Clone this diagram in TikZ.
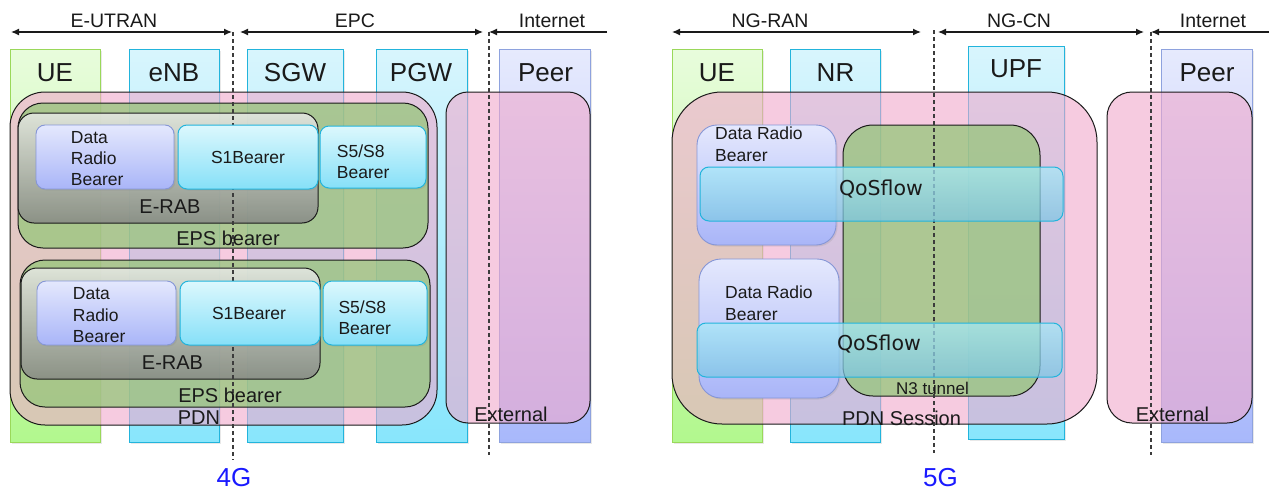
\documentclass[tikz,border=0pt]{standalone}
\usepackage{fontspec}
\setmainfont{Liberation Sans}
\newfontfamily\qosfont{DejaVu Sans}
\usetikzlibrary{arrows.meta,fit,shadows}

\definecolor{ueTop}{HTML}{E8FCDC}
\definecolor{ueBot}{HTML}{B2F88E}
\definecolor{ueLine}{HTML}{9AD85A}
\definecolor{cyTop}{HTML}{D8F5FD}
\definecolor{cyBot}{HTML}{88E6FC}
\definecolor{cyLine}{HTML}{22B4DC}
\definecolor{peTop}{HTML}{E6EAFD}
\definecolor{peBot}{HTML}{A8B8FB}
\definecolor{peLine}{HTML}{8EA2DE}
\definecolor{pinkFill}{HTML}{F0A8CC}
\definecolor{epsGreen}{HTML}{96C67A}
\definecolor{drbTop}{HTML}{E4E8FD}
\definecolor{drbBot}{HTML}{A9B5F8}
\definecolor{drbLine}{HTML}{8696D6}
\definecolor{s1Top}{HTML}{DCF8FD}
\definecolor{s1Bot}{HTML}{86E0F8}
\definecolor{qosTop}{HTML}{A6EAF8}
\definecolor{qosBot}{HTML}{7CC6E4}
\definecolor{genBlue}{HTML}{1A1AFF}
\definecolor{ink}{HTML}{1A1A1A}

\begin{document}
\begin{tikzpicture}[x=1pt,y=-1pt,
  area/.style={inner sep=0pt, outer sep=0pt},
  shade/.style={drop shadow={opacity=0.18, shadow xshift=1.5pt, shadow yshift=-1.5pt}},
  colgreen/.style={area, shade, draw=ueLine, line width=0.9pt, top color=ueTop, bottom color=ueBot},
  colcyan/.style={area, shade, draw=cyLine, line width=0.9pt, top color=cyTop, bottom color=cyBot},
  colpeer/.style={area, shade, draw=peLine, line width=0.9pt, top color=peTop, bottom color=peBot},
  pinkbox/.style={area, draw=ink, line width=1pt, fill=pinkFill, fill opacity=0.6},
  greenbox/.style={area, draw=ink, line width=1pt, fill=epsGreen, fill opacity=0.75},
  graybox/.style={area, draw=ink, line width=1pt, top color=black!8, bottom color=black!48, fill opacity=0.8, rounded corners=16pt},
  drbbox/.style={area, shade, draw=drbLine, line width=0.9pt, top color=drbTop, bottom color=drbBot},
  s1box/.style={area, shade, draw=cyLine, line width=1pt, top color=s1Top, bottom color=s1Bot, rounded corners=9pt},
  qosbox/.style={area, draw=cyLine, line width=1pt, top color=qosTop, bottom color=qosBot, fill opacity=0.72, rounded corners=9pt},
  divider/.style={draw=ink!85, line width=1.1pt, dash pattern=on 4pt off 3pt},
  span/.style={draw=ink, line width=1.2pt},
  tip/.style={-{Latex[length=8pt,width=7pt]}},
  twotips/.style={{Latex[length=8pt,width=7pt]}-{Latex[length=8pt,width=7pt]}},
  lbl/.style={inner sep=0pt, anchor=base, text=ink},
  colname/.style={lbl, font=\fontsize{26}{30}\selectfont},
  hdr/.style={lbl, font=\fontsize{19.5}{23}\selectfont},
  mid/.style={lbl, font=\fontsize{20}{24}\selectfont},
  small/.style={lbl, font=\fontsize{17.5}{21}\selectfont},
  smallL/.style={small, anchor=base west},
  qos/.style={lbl, font=\qosfont\fontsize{20.5}{24}\selectfont},
  gen/.style={lbl, text=genBlue, font=\fontsize{26}{30}\selectfont}
]
\useasboundingbox (0,0) rectangle (1278,490);

% ================= 4G =================
% network element columns
\node[colgreen, fit={(10,49) (100,442)}] (ueA) {};
\node[colcyan,  fit={(129,49) (219,442)}] (enb) {};
\node[colcyan,  fit={(247,49) (343,442)}] (sgw) {};
\node[colcyan,  fit={(376,49) (467,442)}] (pgw) {};
\node[colpeer,  fit={(499,49) (590,442)}] (peerA) {};
\node[colname] (tUEA) at (55,81) {UE};
\node[colname] (tENB) at (174,81) {eNB};
\node[colname] (tSGW) at (295,81) {SGW};
\node[colname] (tPGW) at (421,81) {PGW};
\node[colname] (tPeerA) at (545.5,81) {Peer};

% PDN and external domains
\node[pinkbox, rounded corners=35pt, fit={(10,92) (437,425)}] (pdnA) {};
\node[pinkbox, rounded corners=22pt, fit={(446,92) (590,423)}] (extA) {};

% EPS bearers and E-RABs
\node[greenbox, rounded corners=25pt, fit={(18,103) (428,248)}] (epsA) {};
\node[greenbox, rounded corners=25pt, fit={(20,260) (430,407)}] (epsB) {};
\node[graybox, fit={(18,113) (318,223)}] (erabA) {};
\node[graybox, fit={(21,268) (320,379)}] (erabB) {};

% dividers and domain spans
\coordinate (d4top) at (233,32);
\coordinate (d4bot) at (233,460);
\coordinate (i4top) at (489,32);
\coordinate (i4bot) at (489,455);
\draw[divider] (d4top) -- (d4bot);
\draw[divider] (i4top) -- (i4bot);
\coordinate (eutranL) at (11,32);
\coordinate (eutranR) at (232,32);
\coordinate (epcL) at (240,32);
\coordinate (epcR) at (483,32);
\coordinate (inetA) at (607,32);
\draw[span, twotips] (eutranL) -- (eutranR);
\draw[span, twotips] (epcL) -- (epcR);
\draw[span, tip] (inetA) -- (i4top);
\node[hdr] (tEUTRAN) at (114,27) {E-UTRAN};
\node[hdr] (tEPC) at (355,27) {EPC};
\node[hdr] (tInetA) at (552,27) {Internet};

% bearers
\node[drbbox, rounded corners=9pt, fit={(36,125) (174,189)}] (drbA) {};
\node[s1box, fit={(178,125) (318,189)}] (s1A) {};
\node[s1box, fit={(320,126) (426,188)}] (s5A) {};
\node[drbbox, rounded corners=9pt, fit={(37,281) (176,345)}] (drbB) {};
\node[s1box, fit={(180,281) (320,345)}] (s1B) {};
\node[s1box, fit={(323,281) (427,345)}] (s5B) {};

\node[smallL] (tDrbA1) at (70.7,143) {Data};
\node[smallL] (tDrbA2) at (70.7,164) {Radio};
\node[smallL] (tDrbA3) at (70.7,185) {Bearer};
\node[small] (tS1A) at (248,163) {S1Bearer};
\node[smallL] (tS5A1) at (336.7,157) {S5/S8};
\node[smallL] (tS5A2) at (336.7,178) {Bearer};
\node[mid] (tErabA) at (170,213) {E-RAB};
\node[mid] (tEpsA) at (228,245) {EPS bearer};

\node[smallL] (tDrbB1) at (72.7,299) {Data};
\node[smallL] (tDrbB2) at (72.7,321) {Radio};
\node[smallL] (tDrbB3) at (72.7,342) {Bearer};
\node[small] (tS1B) at (249,319) {S1Bearer};
\node[smallL] (tS5B1) at (338.3,313) {S5/S8};
\node[smallL] (tS5B2) at (338.3,334) {Bearer};
\node[mid] (tErabB) at (172.5,369) {E-RAB};
\node[mid] (tEpsB) at (230,402) {EPS bearer};
\node[mid] (tPdnA) at (199,424) {PDN};
\node[mid] (tExtA) at (511,421) {External};
\node[gen] (t4G) at (234,486) {4G};

% ================= 5G =================
\node[colgreen, fit={(672,49) (762,442)}] (ueB) {};
\node[colcyan,  fit={(790,49) (880,442)}] (nr) {};
\node[colcyan,  fit={(968,46) (1064,439)}] (upf) {};
\node[colpeer,  fit={(1161,49) (1252,442)}] (peerB) {};
\node[colname] (tUEB) at (717,81) {UE};
\node[colname] (tNR) at (835.5,81) {NR};
\node[colname] (tUPF) at (1016,77) {UPF};
\node[colname] (tPeerB) at (1207,81) {Peer};

\node[pinkbox, rounded corners=50pt, fit={(672,92) (1097,424)}] (pdnB) {};
\node[pinkbox, rounded corners=25pt, fit={(1107,92) (1252,423)}] (extB) {};
\node[greenbox, rounded corners=30pt, fit={(843,125) (1040,396)}] (n3) {};

\node[drbbox, rounded corners=20pt, fit={(697,125) (836,245)}] (drbC) {};
\node[drbbox, rounded corners=22pt, fit={(699,259) (839,398)}] (drbD) {};

\coordinate (d5top) at (934,30);
\coordinate (d5bot) at (934,453);
\coordinate (i5top) at (1151,32);
\coordinate (i5bot) at (1151,455);
\draw[divider] (d5top) -- (d5bot);
\draw[divider] (i5top) -- (i5bot);
\coordinate (ngranL) at (672,32);
\coordinate (ngranR) at (921,32);
\coordinate (ngcnL) at (938,32);
\coordinate (ngcnR) at (1144,32);
\coordinate (inetB) at (1269,32);
\draw[span, twotips] (ngranL) -- (ngranR);
\draw[span, twotips] (ngcnL) -- (ngcnR);
\draw[span, tip] (inetB) -- (i5top);
\node[hdr] (tNGRAN) at (770,27) {NG-RAN};
\node[hdr] (tNGCN) at (1019,27) {NG-CN};
\node[hdr] (tInetB) at (1213,27) {Internet};

\node[qosbox, fit={(700,167) (1063,221)}] (qosA) {};
\node[qosbox, fit={(697,323) (1062,377)}] (qosB) {};

\node[smallL] (tDrbC1) at (715,139) {Data Radio};
\node[smallL] (tDrbC2) at (715,161) {Bearer};
\node[smallL] (tDrbD1) at (725,298) {Data Radio};
\node[smallL] (tDrbD2) at (725,320) {Bearer};
\node[qos] (tQosA) at (881,195) {QoSflow};
\node[qos] (tQosB) at (879,350) {QoSflow};
\node[lbl, font=\fontsize{17}{20}\selectfont] (tN3) at (932.5,394) {N3 tunnel};
\node[mid] (tPdnB) at (901.5,425) {PDN Session};
\node[mid] (tExtB) at (1172.5,421) {External};
\node[gen] (t5G) at (940.5,486) {5G};
\end{tikzpicture}
\end{document}
